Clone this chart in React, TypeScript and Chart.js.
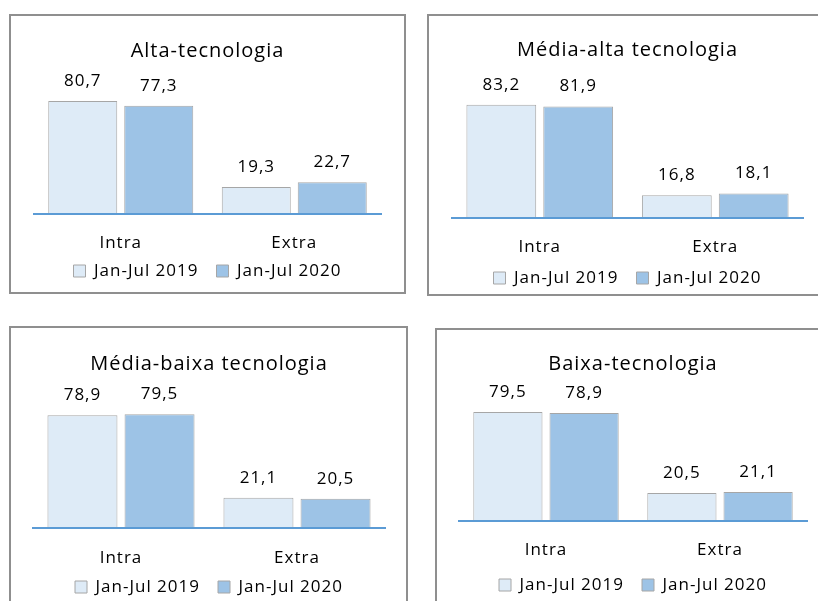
import React, { useEffect, useRef } from 'react';
import { Chart, registerables } from 'chart.js';

Chart.register(...registerables);

// ---------- data ----------
const categories = ['Intra', 'Extra'];
const seriesLabels = ['Jan-Jul 2019', 'Jan-Jul 2020'];
const panelTitles = ['Alta-tecnologia', 'Média-alta tecnologia', 'Média-baixa tecnologia', 'Baixa-tecnologia'];
const alta2019 = [80.7, 19.3];
const alta2020 = [77.3, 22.7];
const mediaAlta2019 = [83.2, 16.8];
const mediaAlta2020 = [81.9, 18.1];
const mediaBaixa2019 = [78.9, 21.1];
const mediaBaixa2020 = [79.5, 20.5];
const baixa2019 = [79.5, 20.5];
const baixa2020 = [78.9, 21.1];
const yMin = 0;
const yMax = 100;

// ---------- layout (page coordinates) ----------
type Lay = {
  box: { l: number; t: number; w: number; h: number };
  titleCy: number; x0: number; x1: number; base: number; top: number; tickCy: number; legendCy: number;
};
const layouts: Lay[] = [
  { box: { l: 9, t: 14, w: 397, h: 280 }, titleCy: 51, x0: 34, x1: 381, base: 214, top: 74, tickCy: 243, legendCy: 271 },
  { box: { l: 427, t: 14, w: 400, h: 282 }, titleCy: 50, x0: 452, x1: 803, base: 218, top: 82, tickCy: 247, legendCy: 278 },
  { box: { l: 9, t: 326, w: 399, h: 300 }, titleCy: 364, x0: 33, x1: 385, base: 528, top: 385, tickCy: 558, legendCy: 587 },
  { box: { l: 435, t: 328, w: 400, h: 300 }, titleCy: 364, x0: 459, x1: 807, base: 521, top: 384, tickCy: 550, legendCy: 585 },
];

const FONT = '"Open Sans", "Liberation Sans", sans-serif';
const TEXT = '#000000';
const LIGHT = '#DEEBF7';
const DARK = '#9DC3E6';
const BAR_BORDER = '#A6A6A6';
const AXIS = '#5B9BD5';
const LEGEND_PAD = 18;

Chart.defaults.font.family = FONT;
Chart.defaults.color = TEXT;

const spacing = (chart: any) => {
  try { (chart.ctx as any).letterSpacing = '1px'; } catch (e) { /* ignore */ }
};
const spacingPlugin = {
  id: 'spacing',
  beforeInit: spacing,
  beforeUpdate: spacing,
  beforeLayout: spacing,
  beforeDraw: spacing,
};

const valueLabels = {
  id: 'valueLabels',
  afterDatasetsDraw(chart: any) {
    const ctx = chart.ctx;
    ctx.save();
    ctx.font = `17px ${FONT}`;
    ctx.fillStyle = TEXT;
    ctx.textAlign = 'center';
    ctx.textBaseline = 'middle';
    chart.data.datasets.forEach((ds: any, i: number) => {
      chart.getDatasetMeta(i).data.forEach((bar: any, j: number) => {
        ctx.fillText(Number(ds.data[j]).toFixed(1).replace('.', ','), bar.x, bar.y - 20);
      });
    });
    ctx.restore();
  },
};

function Panel({ title, d2019, d2020, lay }: { title: string; d2019: number[]; d2020: number[]; lay: Lay }) {
  const ref = useRef<HTMLCanvasElement>(null);
  const canvasH = Math.round(lay.legendCy + 22 - lay.box.t);
  useEffect(() => {
    if (!ref.current) return;
    // legend: text centre = top + pad + 8.5 ; height = 17 + pad + 10
    const legendTop = lay.legendCy - (LEGEND_PAD + 8.5);
    const legendBottom = legendTop + 17 + LEGEND_PAD + 10;
    const chart = new Chart(ref.current, {
      type: 'bar',
      data: {
        labels: categories,
        datasets: [
          { label: seriesLabels[0], data: d2019, backgroundColor: LIGHT, borderColor: BAR_BORDER, borderWidth: 1 },
          { label: seriesLabels[1], data: d2020, backgroundColor: DARK, borderColor: BAR_BORDER, borderWidth: 1 },
        ],
      },
      options: {
        responsive: false,
        animation: false,
        layout: {
          padding: {
            left: lay.x0 - lay.box.l,
            right: lay.box.l + lay.box.w - lay.x1,
            top: 0,
            bottom: canvasH - (legendBottom - lay.box.t),
          },
        },
        datasets: { bar: { categoryPercentage: 0.876, barPercentage: 0.908 } } as any,
        plugins: {
          title: {
            display: true,
            text: title,
            color: TEXT,
            font: { size: 20, weight: 'normal' as any },
            padding: { top: lay.titleCy - 12 - lay.box.t, bottom: lay.top - lay.titleCy - 12 },
          },
          legend: {
            position: 'bottom',
            labels: { boxWidth: 12, boxHeight: 12, padding: LEGEND_PAD, color: TEXT, font: { size: 17 } },
          },
          tooltip: { enabled: false },
        },
        scales: {
          x: {
            grid: { display: false, drawTicks: false },
            border: { color: AXIS, width: 2, z: 1 } as any,
            ticks: { padding: lay.tickCy - lay.base - 10.2, color: TEXT, font: { size: 17 } },
            afterFit: (s: any) => {
              s.height = legendTop - lay.base;
              // let the category labels overlap the legend's (empty) top padding without clipping
              s._computeLabelArea = () => undefined;
            },
          },
          y: { display: false, min: yMin, max: yMax },
        },
      },
      plugins: [spacingPlugin, valueLabels],
    });
    return () => chart.destroy();
  }, []);
  return (
    <>
      <div
        style={{
          position: 'absolute', left: lay.box.l, top: lay.box.t, width: lay.box.w, height: lay.box.h,
          border: '2px solid #8F8F8F', boxSizing: 'border-box',
        }}
      />
      <canvas
        ref={ref}
        width={lay.box.w}
        height={canvasH}
        style={{ position: 'absolute', left: lay.box.l, top: lay.box.t, width: lay.box.w, height: canvasH }}
      />
    </>
  );
}

export default function App() {
  const sets = [
    [alta2019, alta2020],
    [mediaAlta2019, mediaAlta2020],
    [mediaBaixa2019, mediaBaixa2020],
    [baixa2019, baixa2020],
  ];
  return (
    <div style={{ position: 'fixed', left: 0, top: 0, width: 818, height: 601, overflow: 'hidden', background: '#fff' }}>
      {layouts.map((lay, i) => (
        <Panel key={i} title={panelTitles[i]} d2019={sets[i][0]} d2020={sets[i][1]} lay={lay} />
      ))}
    </div>
  );
}
